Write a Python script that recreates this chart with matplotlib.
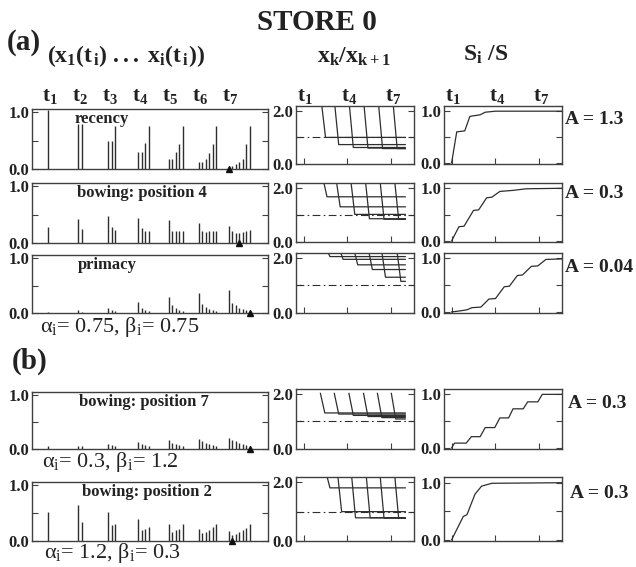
import matplotlib
matplotlib.use('Agg')
import matplotlib.pyplot as plt

plt.rcParams['font.family'] = 'Liberation Serif'
plt.rcParams['font.weight'] = 'bold'
plt.rcParams['mathtext.fontset'] = 'custom'
plt.rcParams['mathtext.rm'] = 'Liberation Serif:weight=normal'
plt.rcParams['mathtext.it'] = 'Liberation Serif:italic'
plt.rcParams['mathtext.bf'] = 'Liberation Serif:bold'
plt.rcParams['mathtext.default'] = 'bf'

# ---------------- data ----------------
names = ['recency', 'bowing: position 4', 'primacy',
         'bowing: position 7', 'bowing: position 2']
a_values = ['1.3', '0.3', '0.04', '0.3', '0.3']

# x_k(t_i), k = 1..i, for each presentation t_i
recency = [[1.05],
           [0.80, 0.80],
           [0.49, 0.49, 0.76],
           [0.30, 0.30, 0.46, 0.76],
           [0.18, 0.18, 0.30, 0.45, 0.76],
           [0.12, 0.12, 0.18, 0.29, 0.45, 0.76],
           [0.04, 0.06, 0.08, 0.12, 0.18, 0.45, 0.76]]
bow4 = [[0.29],
        [0.43, 0.25],
        [0.48, 0.29, 0.23],
        [0.45, 0.27, 0.22, 0.22],
        [0.40, 0.22, 0.21, 0.21, 0.22],
        [0.35, 0.21, 0.20, 0.21, 0.22, 0.22],
        [0.30, 0.21, 0.18, 0.17, 0.20, 0.22, 0.23]]
primacy = [[0.02],
           [0.05, 0.02],
           [0.10, 0.05, 0.03],
           [0.20, 0.10, 0.06, 0.03],
           [0.29, 0.14, 0.09, 0.06, 0.03],
           [0.37, 0.17, 0.11, 0.08, 0.05, 0.03],
           [0.42, 0.19, 0.14, 0.10, 0.07, 0.05, 0.03]]
bow7 = [[0.06],
        [0.06, 0.06],
        [0.10, 0.07, 0.05],
        [0.13, 0.09, 0.07, 0.05],
        [0.17, 0.11, 0.09, 0.07, 0.05],
        [0.19, 0.14, 0.11, 0.09, 0.07, 0.05],
        [0.21, 0.17, 0.14, 0.11, 0.09, 0.07, 0.05]]
bow2 = [[0.52],
        [0.65, 0.35],
        [0.53, 0.29, 0.31],
        [0.40, 0.19, 0.22, 0.25],
        [0.31, 0.16, 0.19, 0.22, 0.31],
        [0.22, 0.14, 0.16, 0.20, 0.25, 0.31],
        [0.18, 0.11, 0.12, 0.16, 0.19, 0.24, 0.31]]
activities = [recency, bow4, primacy, bow7, bow2]
min_position = [1, 4, 7, 7, 2]

# x_k / x_k+1 : onset time and settled level of each ratio curve
ratio_onset = [[2.2, 3.1, 4.1, 5.1, 6.1, 7.1],
               [2.3, 3.2, 4.2, 5.2, 6.2, 7.2],
               [2.5, 3.4, 4.4, 5.4, 6.3, 7.35],
               [2.15, 3.1, 4.1, 5.1, 6.05, 7.0],
               [2.5, 3.3, 4.25, 5.25, 6.2, 7.2]]
ratio_level = [[1.0, 0.73, 0.62, 0.60, 0.58, 0.58],
               [1.67, 1.30, 1.02, 0.86, 0.84, 0.84],
               [2.05, 1.95, 1.75, 1.58, 1.30, 1.15],
               [1.31, 1.27, 1.22, 1.18, 1.14, 1.09],
               [1.81, 1.0, 0.79, 0.79, 0.78, 0.78]]
ratio_top = [2.4, 2.4, 2.4, 2.02, 2.4]
ratio_end = 7.95

# S_i / S
s_t = [[1.0, 1.35, 1.9, 2.25, 2.95, 3.3, 4.0, 8.6],
       [1.0, 1.5, 1.85, 2.5, 2.85, 3.4, 3.75, 4.3, 5.2, 6.1, 8.6],
       [1.0, 1.6, 2.05, 2.4, 3.0, 3.55, 4.0, 4.6, 4.95, 5.5, 5.85, 6.45, 6.9, 7.45, 8.6],
       [1.0, 1.2, 2.0, 2.35, 2.95, 3.3, 3.95, 4.3, 4.9, 5.2, 5.9, 6.2, 6.9, 7.2, 8.6],
       [1.0, 1.8, 2.05, 2.6, 3.05, 3.75, 8.6]]
s_v = [[0.0, 0.60, 0.62, 0.90, 0.93, 0.98, 1.0, 1.0],
       [0.0, 0.27, 0.28, 0.58, 0.59, 0.82, 0.83, 0.94, 0.96, 0.99, 1.0],
       [0.0, 0.02, 0.04, 0.08, 0.09, 0.24, 0.25, 0.47, 0.48, 0.68, 0.69, 0.85, 0.86, 0.98, 0.99],
       [0.0, 0.09, 0.09, 0.21, 0.21, 0.38, 0.38, 0.56, 0.56, 0.73, 0.73, 0.86, 0.86, 1.0, 1.0],
       [0.0, 0.41, 0.44, 0.80, 0.94, 0.99, 1.0]]

alpha_beta = [(2, '0.75', '0.75'), (3, '0.3', '1.2'), (4, '1.2', '0.3')]

# ---------------- layout (pixels of the 636x567 picture) ----------------
W, H = 636, 567
ink = '#2e2e2e'
left_rows = [(109, 169), (183, 243), (255, 313), (392, 449), (482, 541)]
mid_rows = [(106, 164), (183, 242), (253, 313), (389, 449), (477, 541)]
name_x = [0.18, 0.19, 0.195, 0.20, 0.21]
a_xy = [(565, 120), (565, 194), (565, 267), (568, 404), (570, 493)]
ab_xy = {2: (120, 327), 3: (110, 462), 4: (112, 553)}
step = 0.117

fig = plt.figure(figsize=(6.36, 5.67), dpi=100)


def box(x0, x1, top, bottom):
    return [x0 / W, 1 - bottom / H, (x1 - x0) / W, (bottom - top) / H]


def ftext(x, y, s, **kw):
    fig.text(x / W, 1 - y / H, s, **kw)


def style(ax):
    for sp in ax.spines.values():
        sp.set_color('#404040')
        sp.set_linewidth(1.0)
    ax.tick_params(direction='in', length=4, width=0.8, colors='#404040',
                   labelcolor='#222222', labelsize=12, pad=2,
                   left=True, right=True, top=False)


for r in range(5):
    # activity pattern
    ax = fig.add_axes(box(32, 268, *left_rows[r]))
    for g, grp in enumerate(activities[r], start=1):
        xs = [g + k * step for k in range(len(grp))]
        ax.vlines(xs, 0, grp, color=ink, lw=1.0)
    ax.plot(7 + (min_position[r] - 1) * step, 0, marker='^', ms=5,
            color='#111111', clip_on=False, zorder=5)
    ax.set_xlim(0.47, 8.3)
    ax.set_ylim(0, 1.06)
    ax.set_xticks([])
    ax.set_yticks([0, 0.5, 1.0])
    ax.set_yticklabels(['0.0', '', '1.0'])
    style(ax)
    ax.text(name_x[r], 0.97, names[r], transform=ax.transAxes, ha='left',
            va='top', fontsize=12, color='#222222')
    if r == 0:
        for g in range(1, 8):
            ax.text(g + 0.05, 1.22, r'$t_%d$' % g, transform=ax.get_xaxis_transform(),
                    ha='center', va='center', fontsize=15, color='#222222')

    # ratio x_k / x_k+1
    ax = fig.add_axes(box(296, 414, *mid_rows[r]))
    ax.axhline(1.0, color=ink, lw=0.8, ls=(0, (7, 3, 1.5, 3)))
    for t0, lev in zip(ratio_onset[r], ratio_level[r]):
        ax.plot([t0, t0 + 0.3, ratio_end], [ratio_top[r], lev, lev],
                color=ink, lw=0.9)
    ax.set_xlim(0.48, 8.55)
    ax.set_ylim(0, 2.18)
    ax.set_xticks([1, 4, 7])
    ax.set_xticklabels([])
    ax.set_yticks([0, 1, 2])
    ax.set_yticklabels(['0.0', '', '2.0'])
    style(ax)
    if r == 0:
        for g in (1, 4, 7):
            ax.text(g + 0.1, 1.17, r'$t_%d$' % g, transform=ax.get_xaxis_transform(),
                    ha='center', va='center', fontsize=15, color='#222222')

    # S_i / S
    ax = fig.add_axes(box(444, 562, *mid_rows[r]))
    ax.plot(s_t[r], s_v[r], color=ink, lw=0.9)
    ax.set_xlim(0.48, 8.55)
    ax.set_ylim(-0.02, 1.1)
    ax.set_xticks([1, 4, 7])
    ax.set_xticklabels([])
    ax.set_yticks([0, 0.5, 1.0])
    ax.set_yticklabels(['0.0', '', '1.0'])
    style(ax)
    if r == 0:
        for g in (1, 4, 7):
            ax.text(g + 0.1, 1.17, r'$t_%d$' % g, transform=ax.get_xaxis_transform(),
                    ha='center', va='center', fontsize=15, color='#222222')

    ftext(a_xy[r][0], a_xy[r][1], 'A = ' + a_values[r], ha='left', va='center',
          fontsize=14, color='#222222')

for r, a, b in alpha_beta:
    x, y = ab_xy[r]
    ftext(x, y, r'$\mathrm{\alpha_i}$= %s, $\mathrm{\beta_i}$= %s' % (a, b),
          ha='center', va='center', fontsize=16, fontweight='normal', color='#222222')

ftext(317, 23, 'STORE 0', ha='center', va='center', fontsize=21, color='#222222')
ftext(24, 42, '(a)', ha='center', va='center', fontsize=21, color='#222222')
ftext(30, 361, '(b)', ha='center', va='center', fontsize=21, color='#222222')
ftext(126, 56, r'$(x_1(t_{\,i})\ ...\ x_i(t_{\,i}))$', ha='center', va='center',
      fontsize=17, color='#222222')
ftext(354, 57, r'$x_k/x_{k+1}$', ha='center', va='center', fontsize=17, color='#222222')
ftext(486, 55, r'$S_i\ /S$', ha='center', va='center', fontsize=17, color='#222222')

fig.savefig('out.png', dpi=100, facecolor='white')
